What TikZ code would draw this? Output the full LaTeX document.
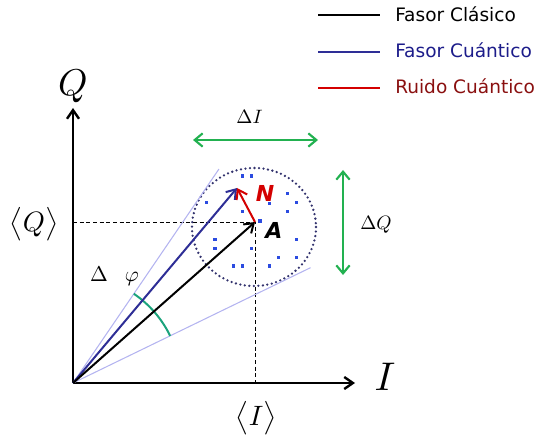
\documentclass[tikz,border=0pt]{standalone}
\usepackage{fontspec}
\newfontfamily\legfont{DejaVu Sans}[ItalicFont={DejaVu Sans Oblique}, BoldFont={DejaVu Sans Bold}, BoldItalicFont={DejaVu Sans Bold Oblique}]
\usetikzlibrary{arrows.meta, calc}
\definecolor{qblue}{HTML}{2E2E96}
\definecolor{lblue}{HTML}{B4B4F0}
\definecolor{dgreen}{HTML}{22B150}
\definecolor{arcgreen}{HTML}{1BA37C}
\definecolor{nred}{HTML}{D40000}
\definecolor{legblue}{HTML}{1C1C8A}
\definecolor{legred}{HTML}{8A1010}
\definecolor{ring}{HTML}{33336E}
\definecolor{dotblue}{HTML}{2B4BE0}

\begin{document}
\begin{tikzpicture}[
    x=0.75pt, y=-0.75pt,
    barb/.style={-{Straight Barb[length=6.5pt, width=9pt]}, line width=1.5pt},
    dbl/.style={{Straight Barb[length=6pt, width=10pt]}-{Straight Barb[length=6pt, width=10pt]}, line width=1.6pt, dgreen},
    guide/.style={dash pattern=on 3pt off 2pt, line width=0.7pt},
    tangent/.style={lblue, line width=0.8pt},
    leg/.style={anchor=base west, inner sep=0, font=\legfont\fontsize{13.9}{16}\selectfont},
    lbl/.style={inner sep=0},
    tag/.style={inner sep=0, font=\legfont\bfseries\itshape\fontsize{16.5}{18}\selectfont}
  ]
  \useasboundingbox (0,0) rectangle (545,438);

  % Legend (top right)
  \draw[black, line width=1.6pt] (318,15) -- (380,15);
  \draw[qblue, line width=1.6pt] (318,52) -- (380,52);
  \draw[nred, line width=1.6pt] (318,88) -- (380,88);
  \node[leg] (legc) at (395,21.7) {Fasor Clásico};
  \node[leg, text=legblue] (legq) at (395,57.5) {Fasor Cuántico};
  \node[leg, text=legred] (legn) at (395,94) {Ruido Cuántico};

  % Axes
  \coordinate (O) at (73,383);
  \coordinate (Qtip) at (73,108);
  \coordinate (Itip) at (355,383);
  \coordinate (A) at (255,222);
  \coordinate (B) at (237,188);
  \draw[guide] (O |- A) -- (A) -- (A |- O);
  \draw[barb, line width=1.8pt] (O) -- (Qtip);
  \draw[barb, line width=1.8pt] (O) -- (Itip);
  \node[lbl, scale=2.8] (qax) at (73,86.5) {$Q$};
  \node[lbl, scale=3.0] (iax) at (385,376.5) {$I$};
  \node[lbl, scale=2.1] (qmean) at (34,224) {$\bigl\langle Q\bigr\rangle$};
  \node[lbl, scale=2.1] (imean) at (256,418.5) {$\bigl\langle I\bigr\rangle$};

  % Uncertainty circle and noise points
  \draw[ring, line width=1.9pt, dash pattern=on 0pt off 3.4pt, line cap=round]
    (254,227) ellipse [x radius=62, y radius=59];
  \foreach \p in {(242.7,176),(251.7,176),(206.7,202.7),(242.7,211.7),(260,221),
                  (287.3,193.3),(296.7,202.7),(287.3,211.7),(269.3,203.3),
                  (215,239.3),(215,248.3),(251.7,248.3),(296.7,239.3),
                  (278.3,257.3),(296.7,257.3),(233.3,266),(242.7,266),(269.3,266)}
    \fill[dotblue] \p +(-1.7,-1.7) rectangle +(1.7,1.7);

  % Tangent lines and phase spread
  \path (O) ++(-55.7:259) coordinate (Tup);
  \path (O) ++(-25.9:264) coordinate (Tlo);
  \draw[tangent] (O) -- (Tup);
  \draw[tangent] (O) -- (Tlo);
  \draw[arcgreen, line width=1.5pt] (O) ++(-25.9:108) arc[start angle=-25.9, end angle=-55.7, radius=108];
  \node[lbl, scale=1.6] (dphi) at (114.5,276) {$\Delta\hspace{0.8em}\varphi$};

  % Phasors
  \draw[barb, qblue] (O) -- (B);
  \draw[barb, black] (O) -- (A);
  \draw[barb, nred] (A) -- (B);
  \node[tag, text=nred] (nlab) at (265,193) {N};
  \node[tag] (alab) at (274,230.5) {A};

  % Spreads
  \coordinate (dIl) at (193,140);
  \coordinate (dIr) at (318,140);
  \coordinate (dQt) at (343,170);
  \coordinate (dQb) at (343,275);
  \draw[dbl] (dIl) -- (dIr);
  \draw[dbl] (dQt) -- (dQb);
  \node[lbl, scale=1.45] (dilab) at (249.5,116.5) {$\Delta I$};
  \node[lbl, scale=1.45] (dqlab) at (376,225) {$\Delta Q$};
\end{tikzpicture}
\end{document}
